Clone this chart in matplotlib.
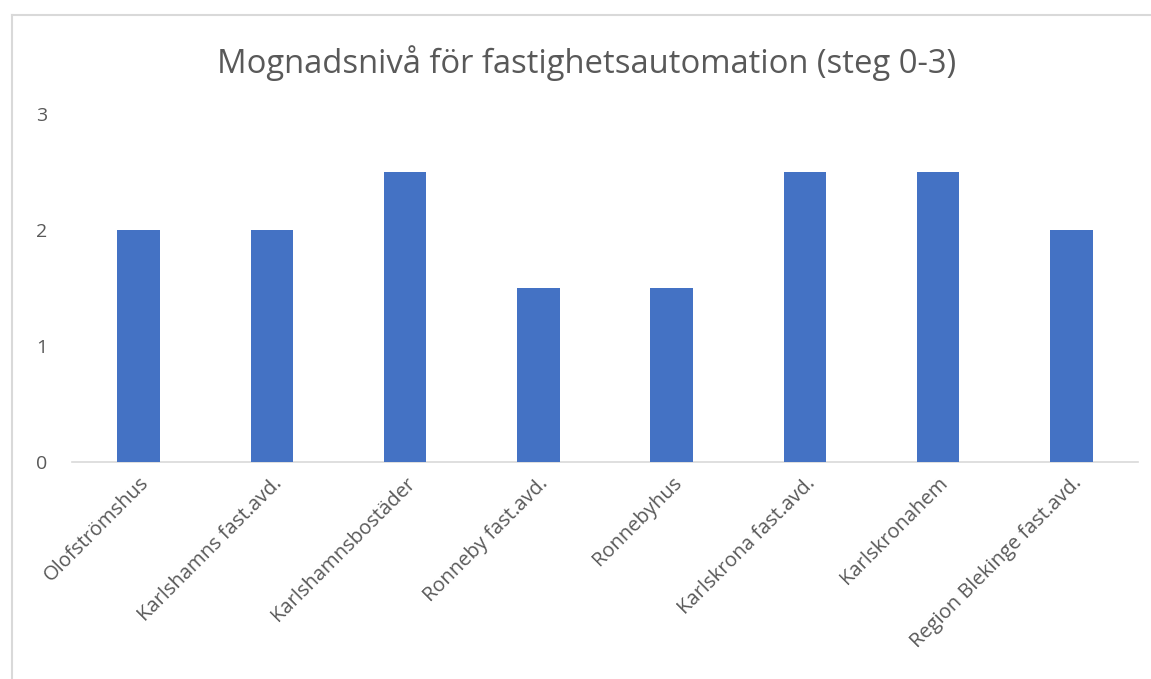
import matplotlib
matplotlib.use("Agg")
import matplotlib.pyplot as plt
from matplotlib.lines import Line2D

categories = ["Olofströmshus", "Karlshamns fast.avd.", "Karlshamnsbostäder", "Ronneby fast.avd.",
              "Ronnebyhus", "Karlskrona fast.avd.", "Karlskronahem", "Region Blekinge fast.avd."]
values = [2, 2, 2.5, 1.5, 1.5, 2.5, 2.5, 2]
yticks = [0, 1, 2, 3]
title = "Mognadsnivå för fastighetsautomation (steg 0-3)"

plt.rcParams['font.family'] = ['Open Sans', 'DejaVu Sans']
fig = plt.figure(figsize=(11.51, 6.79), dpi=100)
ax = fig.add_axes([0.0626, 0.3196, 0.9261, 0.5125])
x = list(range(len(categories)))
ax.bar(x, values, width=0.32, color="#4472C4", zorder=3)
ax.set_xlim(-0.5, len(categories) - 0.5)
ax.set_ylim(0, 3)
ax.set_yticks(yticks)
ax.set_yticklabels([str(t) for t in yticks], fontsize=14, color="#595959")
ax.set_xticks(x)
ax.set_xticklabels(categories, rotation=45, ha="right", rotation_mode="anchor",
                   fontsize=14.5, color="#595959")
ax.tick_params(axis="both", length=0)
ax.tick_params(axis="y", pad=18)
ax.tick_params(axis="x", pad=8)
for s in ["top", "right", "left"]:
    ax.spines[s].set_visible(False)
ax.spines["bottom"].set_color("#d9d9d9")
ax.spines["bottom"].set_linewidth(1.2)
fig.text(0.510, 0.907, title, ha="center", va="center", fontsize=23.6, color="#595959")
# outer chart border (left and top visible)
fig.add_artist(Line2D([12/1151, 12/1151], [0, 1 - 15/679], transform=fig.transFigure, color="#d9d9d9", lw=1.5))
fig.add_artist(Line2D([12/1151, 1], [1 - 15/679, 1 - 15/679], transform=fig.transFigure, color="#d9d9d9", lw=1.5))
fig.savefig("out.png", dpi=100, facecolor="white")
